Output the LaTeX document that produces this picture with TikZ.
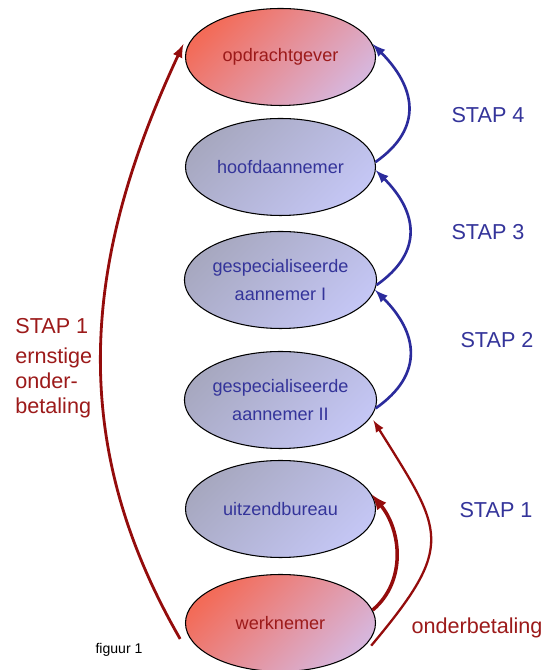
\documentclass[tikz,border=0pt]{standalone}
\usepackage{fontspec}
\setmainfont{Liberation Sans}
\usepackage{xcolor}
\usetikzlibrary{shapes, positioning, arrows}
\definecolor{roodpijl}{HTML}{940C0C}
\definecolor{roodtekst}{HTML}{9C1A1A}
\definecolor{blauwpijl}{HTML}{2B2B9C}
\definecolor{blauwtekst}{HTML}{34349A}
\definecolor{roodboven}{HTML}{F36B58}
\definecolor{roodonder}{HTML}{D7B6DC}
\definecolor{blauwboven}{HTML}{A7A8C0}
\definecolor{blauwonder}{HTML}{C4C6F4}
\tikzset{
	partij/.style={ellipse, draw=black, line width=0.6pt, minimum width=3.8cm, minimum height=1.94cm, inner sep=0pt, align=center, font=\fontsize{10.3}{16.4}\selectfont},
	rood/.style={partij, top color=roodboven, bottom color=roodonder, shading angle=45, text=roodtekst},
	blauw/.style={partij, top color=blauwboven, bottom color=blauwonder, shading angle=45, text=blauwtekst},
	pijlblauw/.style={-latex, line width=1.5pt, blauwpijl},
	pijlrood/.style={-latex, line width=1.3pt, roodpijl},
	stapblauw/.style={inner sep=0pt, text=blauwtekst, font=\fontsize{12.3}{14.2}\selectfont},
	staprood/.style={inner sep=0pt, text=roodtekst, font=\fontsize{12.3}{14.2}\selectfont}
}

\begin{document}
\begin{tikzpicture}
	\useasboundingbox (0,0) rectangle (10.94,13.4);
	
	% partijen
	\node[rood] (opdr) at (5.61,12.26) {opdrachtgever};
	\node[blauw] (hoofd) at (5.61,10.06) {hoofdaannemer};
	\node[blauw] (gsp1) at (5.61,7.80) {gespecialiseerde\\aannemer I};
	\node[blauw] (gsp2) at (5.61,5.40) {gespecialiseerde\\aannemer II};
	\node[blauw] (uitz) at (5.61,3.22) {uitzendbureau};
	\node[rood] (werk) at (5.61,0.94) {werknemer};
	
	% STAP 2 - 4
	\draw[pijlblauw] (hoofd.3) to[out=35, in=-45, looseness=1.3] (opdr.8);
	\draw[pijlblauw] (gsp1.-3) to[out=35, in=-45, looseness=1.3] (hoofd.-2);
	\draw[pijlblauw] (gsp2.-5) to[out=35, in=-45, looseness=1.3] (gsp1.-6);
	
	% STAP 1
	\draw[pijlrood, line width=2pt] (werk.8) to[out=40, in=-50] (uitz.9);
	\draw[pijlrood] ([xshift=0.12cm]werk.-15) to[out=50, in=-58, looseness=1.5] ([xshift=0.1cm]gsp2.-13);
	\draw[pijlrood, line width=1.6pt] ([xshift=-0.2cm]werk.190) to[out=120, in=-115] ([xshift=-0.1cm]opdr.172);
	
	% teksten
	\node[stapblauw] (stap4) at (9.76,11.1) {STAP 4};
	\node[stapblauw] (stap3) at (9.76,8.76) {STAP 3};
	\node[stapblauw] (stap2) at (9.94,6.6) {STAP 2};
	\node[stapblauw] (stap1) at (9.92,3.2) {STAP 1};
	\node[staprood] (onder) at (9.54,0.84) {onderbetaling};
	\node[staprood, anchor=west] (stap1links) at (0.3,6.88) {STAP 1};
	\node[staprood, anchor=west, align=left] (ernstig) at (0.3,5.74) {ernstige\\onder-\\betaling};
	\node[font=\fontsize{8}{9.6}\selectfont] (figuur) at (2.38,0.4) {figuur 1};
\end{tikzpicture}
\end{document}
